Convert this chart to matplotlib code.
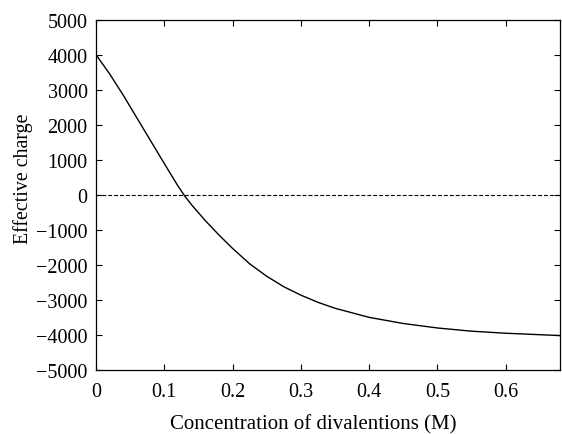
import numpy as np
import matplotlib.pyplot as plt

# values
conc = [0, 0.02, 0.04, 0.06, 0.08, 0.10, 0.12, 0.13, 0.14, 0.16, 0.18, 0.20,
        0.225, 0.25, 0.275, 0.30, 0.325, 0.35, 0.40, 0.45, 0.50, 0.55, 0.60, 0.65, 0.68]
charge = [4000, 3450, 2840, 2190, 1540, 890, 250, -40, -290, -740, -1150, -1535,
          -1975, -2330, -2630, -2870, -3075, -3245, -3505, -3680, -3808, -3900, -3958, -4000, -4025]

xticks = [0, 0.1, 0.2, 0.3, 0.4, 0.5, 0.6]
xticklabels = ["0", "0.1", "0.2", "0.3", "0.4", "0.5", "0.6"]
yticks = [-5000, -4000, -3000, -2000, -1000, 0, 1000, 2000, 3000, 4000, 5000]

plt.rcParams['font.family'] = ['Liberation Serif', 'DejaVu Serif']
plt.rcParams['font.size'] = 14.5
plt.rcParams['axes.unicode_minus'] = True

fig = plt.figure(figsize=(5.62, 4.35), dpi=100)
ax = fig.add_axes([96 / 562, 1 - 370.7 / 435, (560.4 - 96) / 562, (370.7 - 20.7) / 435])

ax.plot(conc, charge, color="black", lw=1.0)
ax.axhline(0, color="black", lw=0.8, ls=(0, (3.5, 1.8)))

ax.set_xlim(0, 0.68)
ax.set_ylim(-5000, 5000)
ax.set_xticks(xticks)
ax.set_xticklabels(xticklabels)
ax.set_yticks(yticks)
ax.tick_params(direction="in", length=4, width=0.8, top=True, right=True)
ax.tick_params(axis="x", pad=9)
ax.tick_params(axis="y", pad=6)
for s in ax.spines.values():
    s.set_linewidth(0.9)

ax.set_xlabel("Concentration of divalentions (M)", fontsize=15)
ax.set_ylabel("Effective charge", fontsize=14.3)
ax.xaxis.set_label_coords(0.467, -0.127)
ax.yaxis.set_label_coords(-0.136, 0.549)

fig.savefig("out.png", dpi=100)
